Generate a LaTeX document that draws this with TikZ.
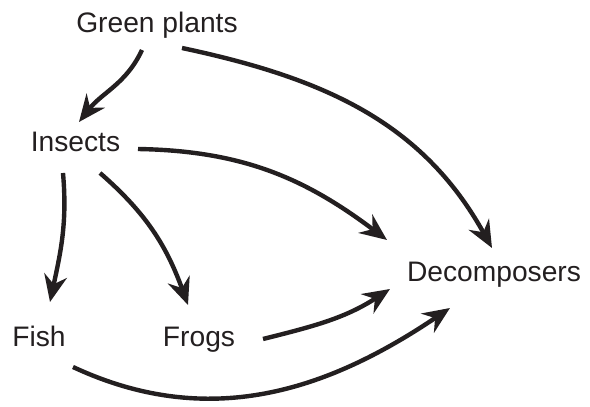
\documentclass[tikz,border=0pt]{standalone}
\usepackage{fontspec}
\setmainfont{Liberation Sans}
\usetikzlibrary{arrows.meta}
\definecolor{ink}{RGB}{35,31,32}
\begin{document}
\begin{tikzpicture}[x=0.5pt,y=0.5pt,
  lbl/.style={inner sep=0pt,anchor=base,text=ink,font=\fontsize{14.1}{16}\selectfont},
  arr/.style={draw=ink,line width=2.2pt,-{Stealth[length=13.5pt,width=11.5pt,inset=4.5pt]}}]
\useasboundingbox (0,0) rectangle (590,407);
\node[lbl] (gp) at (157,374) {Green plants};
\node[lbl] (ins) at (75.5,255) {Insects};
\node[lbl] (dec) at (494,125.5) {Decomposers};
\node[lbl] (fish) at (39,60.5) {Fish};
\node[lbl] (frogs) at (199,60.5) {Frogs};
\draw[arr] ([shift={(-15,-17)}]gp.base) to[out=245,in=52] ([shift={(3.5,30)}]ins.base);
\draw[arr] ([shift={(25,-15)}]gp.base) to[out=-12,in=119] ([shift={(-2,33.5)}]dec.base);
\draw[arr] ([shift={(62.5,3)}]ins.base) to[out=-1,in=143] ([shift={(-107,41.5)}]dec.base);
\draw[arr] ([shift={(-12.5,-21)}]ins.base) to[out=-85,in=78] ([shift={(11,44.5)}]fish.base);
\draw[arr] ([shift={(24.5,-21)}]ins.base) to[out=-41,in=110] ([shift={(-11,41.5)}]frogs.base);
\draw[arr] ([shift={(64,7.5)}]frogs.base) to[out=14,in=213] ([shift={(-104,-7.5)}]dec.base);
\draw[arr] ([shift={(34,-20.5)}]fish.base) to[out=-25,in=214] ([shift={(-44,-26.5)}]dec.base);
\end{tikzpicture}
\end{document}
